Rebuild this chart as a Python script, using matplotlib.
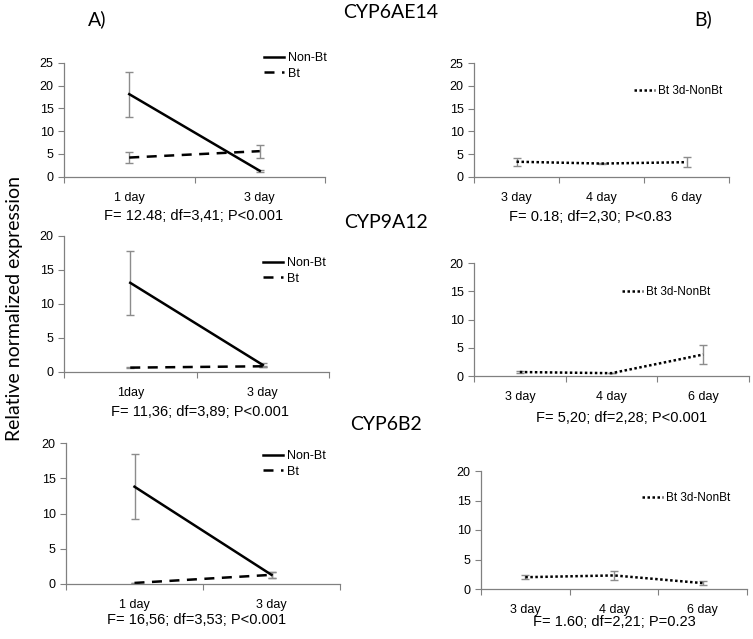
import matplotlib
matplotlib.use("Agg")
import matplotlib.pyplot as plt

W, H = 753, 639

# ---- data ----
days_a = ["1 day", "3 day"]
days_a2 = ["1day", "3 day"]
days_b = ["3 day", "4 day", "6 day"]

# CYP6AE14
ae14_nonbt = [18.1, 1.3]
ae14_nonbt_err = [4.9, 0.25]
ae14_bt = [4.2, 5.6]
ae14_bt_err = [1.15, 1.45]
ae14_b = [3.3, 2.9, 3.2]
ae14_b_err = [0.85, 0.1, 1.05]

# CYP9A12
a12_nonbt = [13.1, 1.0]
a12_nonbt_err = [4.7, 0.3]
a12_bt = [0.6, 0.8]
a12_bt_err = [0.1, 0.1]
a12_b = [0.7, 0.5, 3.8]
a12_b_err = [0.1, 0.05, 1.7]

# CYP6B2
b2_nonbt = [13.8, 1.3]
b2_nonbt_err = [4.6, 0.4]
b2_bt = [0.15, 1.3]
b2_bt_err = [0.05, 0.4]
b2_b = [2.0, 2.3, 1.0]
b2_b_err = [0.3, 0.8, 0.4]

stats = ["F= 12.48; df=3,41; P<0.001", "F= 0.18; df=2,30; P<0.83",
         "F= 11,36; df=3,89; P<0.001", "F= 5,20; df=2,28; P<0.001",
         "F= 16,56; df=3,53; P<0.001", "F= 1.60; df=2,21; P=0.23"]

TICKF = "Liberation Sans"
TITLEF = "Lato"
spine_c = "#808080"

fig = plt.figure(figsize=(W / 100, H / 100), dpi=100)


def box(l, r, t, b):
    return [l / W, 1 - b / H, (r - l) / W, (b - t) / H]


def style(ax, labels, ymax):
    n = len(labels)
    ax.set_xlim(-0.5, n - 0.5)
    ax.set_ylim(0, ymax)
    ax.set_yticks(range(0, ymax + 1, 5))
    ax.set_xticks([i - 0.5 for i in range(n + 1)])
    ax.set_xticklabels([])
    ax.set_xticks(range(n), minor=True)
    ax.set_xticklabels(labels, minor=True, fontsize=9, family=TICKF)
    ax.tick_params(axis="x", which="minor", length=0, pad=11)
    ax.tick_params(axis="x", which="major", length=4, color=spine_c)
    ax.tick_params(axis="y", length=4, color=spine_c, labelsize=9)
    for lab in ax.get_yticklabels():
        lab.set_family(TICKF)
    for s in ["top", "right"]:
        ax.spines[s].set_visible(False)
    for s in ["left", "bottom"]:
        ax.spines[s].set_color(spine_c)
        ax.spines[s].set_linewidth(0.9)


def panel_a(rect, labels, ymax, nb, nbe, bt, bte, leg_xy):
    ax = fig.add_axes(box(*rect))
    x = range(len(labels))
    ax.errorbar(x, nb, yerr=nbe, fmt="none", ecolor="#8c8c8c", elinewidth=1, capsize=3)
    ax.errorbar(x, bt, yerr=bte, fmt="none", ecolor="#8c8c8c", elinewidth=1, capsize=3)
    ax.plot(x, nb, color="black", lw=1.8, label="Non-Bt")
    ax.plot(x, bt, color="black", lw=1.8, ls=(0, (4, 3)), label="Bt")
    style(ax, labels, ymax)
    ax.legend(loc="upper left", bbox_to_anchor=(leg_xy[0] / W, 1 - leg_xy[1] / H),
              bbox_transform=fig.transFigure, frameon=False, borderpad=0, borderaxespad=0,
              handlelength=1.6, handletextpad=0.3, labelspacing=0.3,
              prop={"family": TICKF, "size": 9})
    return ax


def panel_b(rect, ymax, vals, errs, leg_xy):
    ax = fig.add_axes(box(*rect))
    x = range(len(days_b))
    ax.errorbar(x, vals, yerr=errs, fmt="none", ecolor="#8c8c8c", elinewidth=1, capsize=3)
    ax.plot(x, vals, color="black", lw=1.8, ls=(0, (1, 1)), label="Bt 3d-NonBt")
    style(ax, days_b, ymax)
    ax.legend(loc="upper left", bbox_to_anchor=(leg_xy[0] / W, 1 - leg_xy[1] / H),
              bbox_transform=fig.transFigure, frameon=False, borderpad=0, borderaxespad=0,
              handlelength=1.8, handletextpad=0.2,
              prop={"family": TICKF, "size": 8.5})
    return ax


panel_a((64, 325, 62.7, 176.7), days_a, 25, ae14_nonbt, ae14_nonbt_err, ae14_bt, ae14_bt_err, (264, 52))
panel_b((474, 729, 63.3, 176.7), 25, ae14_b, ae14_b_err, (634, 85))
panel_a((64, 329, 236, 371.7), days_a2, 20, a12_nonbt, a12_nonbt_err, a12_bt, a12_bt_err, (263, 257))
panel_b((474, 749, 263, 376), 20, a12_b, a12_b_err, (622, 286))
panel_a((66, 340, 443, 584), days_a, 20, b2_nonbt, b2_nonbt_err, b2_bt, b2_bt_err, (263, 450))
panel_b((481, 747, 471, 589), 20, b2_b, b2_b_err, (642, 492))

# stats lines
stat_pos = [(194, 216), (590, 217), (200, 412), (622, 418), (197, 620), (614, 622)]
for s, (px, py) in zip(stats, stat_pos):
    fig.text(px / W, 1 - py / H, s, ha="center", va="center", fontsize=10.5, family=TICKF)

# titles
fig.text(97 / W, 1 - 19 / H, "A)", ha="center", va="center", fontsize=14, family=TITLEF)
fig.text(703 / W, 1 - 19 / H, "B)", ha="center", va="center", fontsize=14, family=TITLEF)
fig.text(391 / W, 1 - 12 / H, "CYP6AE14", ha="center", va="center", fontsize=14, family=TITLEF)
fig.text(386 / W, 1 - 223 / H, "CYP9A12", ha="center", va="center", fontsize=14, family=TITLEF)
fig.text(386 / W, 1 - 425 / H, "CYP6B2", ha="center", va="center", fontsize=14, family=TITLEF)
fig.text(15 / W, 1 - 308 / H, "Relative normalized expression", rotation=90,
         ha="center", va="center", fontsize=14, family=TITLEF)

fig.savefig("out.png", dpi=100)
